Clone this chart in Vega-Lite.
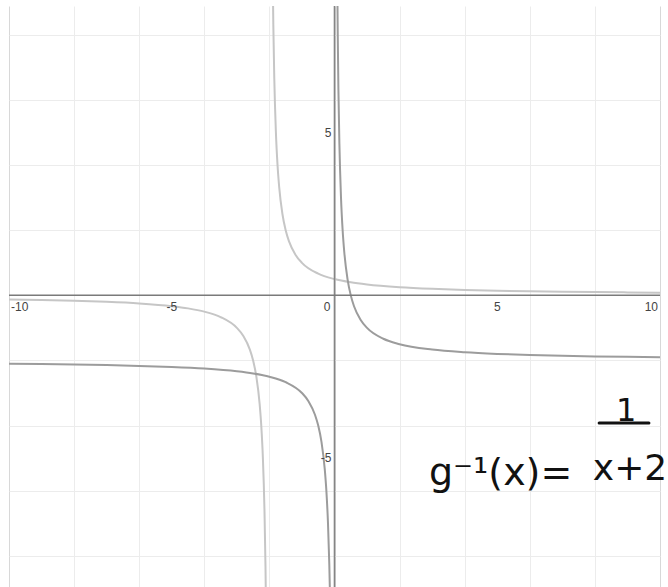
{
  "$schema": "https://vega.github.io/schema/vega-lite/v6.json",
  "width": 651,
  "height": 581,
  "autosize": "none",
  "padding": {"left": 9, "top": 6, "right": 8, "bottom": 0},
  "background": "white",
  "config": {"view": {"stroke": null}},
  "datasets": {
    "curves": [
      {"curve": "inverse", "seg": "a", "x": -10, "y": -0.125},
      {"curve": "inverse", "seg": "a", "x": -9, "y": -0.142857},
      {"curve": "inverse", "seg": "a", "x": -8, "y": -0.166667},
      {"curve": "inverse", "seg": "a", "x": -7, "y": -0.2},
      {"curve": "inverse", "seg": "a", "x": -6, "y": -0.25},
      {"curve": "inverse", "seg": "a", "x": -5, "y": -0.333333},
      {"curve": "inverse", "seg": "a", "x": -4.5, "y": -0.4},
      {"curve": "inverse", "seg": "a", "x": -4, "y": -0.5},
      {"curve": "inverse", "seg": "a", "x": -3.5, "y": -0.666667},
      {"curve": "inverse", "seg": "a", "x": -3, "y": -1},
      {"curve": "inverse", "seg": "a", "x": -2.8, "y": -1.25},
      {"curve": "inverse", "seg": "a", "x": -2.6, "y": -1.666667},
      {"curve": "inverse", "seg": "a", "x": -2.5, "y": -2},
      {"curve": "inverse", "seg": "a", "x": -2.4, "y": -2.5},
      {"curve": "inverse", "seg": "a", "x": -2.3, "y": -3.333333},
      {"curve": "inverse", "seg": "a", "x": -2.25, "y": -4},
      {"curve": "inverse", "seg": "a", "x": -2.2, "y": -5},
      {"curve": "inverse", "seg": "a", "x": -2.15, "y": -6.666667},
      {"curve": "inverse", "seg": "a", "x": -2.12, "y": -8.333333},
      {"curve": "inverse", "seg": "a", "x": -2.1, "y": -10},
      {"curve": "inverse", "seg": "a", "x": -2.08333, "y": -12},
      {"curve": "inverse", "seg": "b", "x": -1.92, "y": 12.5},
      {"curve": "inverse", "seg": "b", "x": -1.9, "y": 10},
      {"curve": "inverse", "seg": "b", "x": -1.88, "y": 8.333333},
      {"curve": "inverse", "seg": "b", "x": -1.85, "y": 6.666667},
      {"curve": "inverse", "seg": "b", "x": -1.8, "y": 5},
      {"curve": "inverse", "seg": "b", "x": -1.75, "y": 4},
      {"curve": "inverse", "seg": "b", "x": -1.7, "y": 3.333333},
      {"curve": "inverse", "seg": "b", "x": -1.6, "y": 2.5},
      {"curve": "inverse", "seg": "b", "x": -1.5, "y": 2},
      {"curve": "inverse", "seg": "b", "x": -1.4, "y": 1.666667},
      {"curve": "inverse", "seg": "b", "x": -1.2, "y": 1.25},
      {"curve": "inverse", "seg": "b", "x": -1, "y": 1},
      {"curve": "inverse", "seg": "b", "x": -0.5, "y": 0.666667},
      {"curve": "inverse", "seg": "b", "x": 0, "y": 0.5},
      {"curve": "inverse", "seg": "b", "x": 0.5, "y": 0.4},
      {"curve": "inverse", "seg": "b", "x": 1, "y": 0.333333},
      {"curve": "inverse", "seg": "b", "x": 2, "y": 0.25},
      {"curve": "inverse", "seg": "b", "x": 3, "y": 0.2},
      {"curve": "inverse", "seg": "b", "x": 4, "y": 0.166667},
      {"curve": "inverse", "seg": "b", "x": 5, "y": 0.142857},
      {"curve": "inverse", "seg": "b", "x": 6, "y": 0.125},
      {"curve": "inverse", "seg": "b", "x": 7, "y": 0.111111},
      {"curve": "inverse", "seg": "b", "x": 8, "y": 0.1},
      {"curve": "inverse", "seg": "b", "x": 9, "y": 0.090909},
      {"curve": "inverse", "seg": "b", "x": 10, "y": 0.083333},
      {"curve": "g", "seg": "c", "x": -10, "y": -2.1},
      {"curve": "g", "seg": "c", "x": -9, "y": -2.111111},
      {"curve": "g", "seg": "c", "x": -8, "y": -2.125},
      {"curve": "g", "seg": "c", "x": -7, "y": -2.142857},
      {"curve": "g", "seg": "c", "x": -6, "y": -2.166667},
      {"curve": "g", "seg": "c", "x": -5, "y": -2.2},
      {"curve": "g", "seg": "c", "x": -4, "y": -2.25},
      {"curve": "g", "seg": "c", "x": -3, "y": -2.333333},
      {"curve": "g", "seg": "c", "x": -2.5, "y": -2.4},
      {"curve": "g", "seg": "c", "x": -2, "y": -2.5},
      {"curve": "g", "seg": "c", "x": -1.5, "y": -2.666667},
      {"curve": "g", "seg": "c", "x": -1, "y": -3},
      {"curve": "g", "seg": "c", "x": -0.8, "y": -3.25},
      {"curve": "g", "seg": "c", "x": -0.6, "y": -3.666667},
      {"curve": "g", "seg": "c", "x": -0.5, "y": -4},
      {"curve": "g", "seg": "c", "x": -0.4, "y": -4.5},
      {"curve": "g", "seg": "c", "x": -0.3, "y": -5.333333},
      {"curve": "g", "seg": "c", "x": -0.25, "y": -6},
      {"curve": "g", "seg": "c", "x": -0.2, "y": -7},
      {"curve": "g", "seg": "c", "x": -0.16, "y": -8.25},
      {"curve": "g", "seg": "c", "x": -0.14, "y": -9.142857},
      {"curve": "g", "seg": "c", "x": -0.12, "y": -10.333333},
      {"curve": "g", "seg": "c", "x": -0.1, "y": -12},
      {"curve": "g", "seg": "d", "x": 0.07, "y": 12.285714},
      {"curve": "g", "seg": "d", "x": 0.08, "y": 10.5},
      {"curve": "g", "seg": "d", "x": 0.09, "y": 9.111111},
      {"curve": "g", "seg": "d", "x": 0.1, "y": 8},
      {"curve": "g", "seg": "d", "x": 0.12, "y": 6.333333},
      {"curve": "g", "seg": "d", "x": 0.15, "y": 4.666667},
      {"curve": "g", "seg": "d", "x": 0.2, "y": 3},
      {"curve": "g", "seg": "d", "x": 0.25, "y": 2},
      {"curve": "g", "seg": "d", "x": 0.3, "y": 1.333333},
      {"curve": "g", "seg": "d", "x": 0.4, "y": 0.5},
      {"curve": "g", "seg": "d", "x": 0.5, "y": 0},
      {"curve": "g", "seg": "d", "x": 0.6, "y": -0.333333},
      {"curve": "g", "seg": "d", "x": 0.8, "y": -0.75},
      {"curve": "g", "seg": "d", "x": 1, "y": -1},
      {"curve": "g", "seg": "d", "x": 1.5, "y": -1.333333},
      {"curve": "g", "seg": "d", "x": 2, "y": -1.5},
      {"curve": "g", "seg": "d", "x": 3, "y": -1.666667},
      {"curve": "g", "seg": "d", "x": 4, "y": -1.75},
      {"curve": "g", "seg": "d", "x": 5, "y": -1.8},
      {"curve": "g", "seg": "d", "x": 6, "y": -1.833333},
      {"curve": "g", "seg": "d", "x": 7, "y": -1.857143},
      {"curve": "g", "seg": "d", "x": 8, "y": -1.875},
      {"curve": "g", "seg": "d", "x": 9, "y": -1.888889},
      {"curve": "g", "seg": "d", "x": 10, "y": -1.9}
    ],
    "xlabels": [
      {"v": -10, "t": "-10", "pos": "left"},
      {"v": -5, "t": "-5", "pos": "center"},
      {"v": 5, "t": "5", "pos": "center"},
      {"v": 10, "t": "10", "pos": "right"}
    ],
    "ylabels": [
      {"v": 5, "t": "5"},
      {"v": -5, "t": "-5"}
    ],
    "note": [
      {"x": 2.9, "y": -5.83, "t": "g⁻¹(x)=", "kind": "lhs"},
      {"x": 8.96, "y": -3.86, "t": "1", "kind": "num"},
      {"x": 9.08, "y": -5.33, "t": "x+2", "kind": "den"}
    ],
    "bar": [{"x": 8.13, "x2": 9.66, "y": -3.92}]
  },
  "layer": [
    {
      "data": {"name": "curves"},
      "mark": {"type": "line", "clip": true, "interpolate": "monotone", "strokeWidth": 2},
      "encoding": {
        "x": {
          "field": "x", "type": "quantitative",
          "scale": {"domain": [-10, 10], "nice": false, "zero": false},
          "axis": {
            "values": [-10, -9, -8, -7, -6, -5, -4, -3, -2, -1, 0, 1, 2, 3, 4, 5, 6, 7, 8, 9, 10],
            "grid": true, "labels": false, "ticks": false, "domain": false, "title": null,
            "gridColor": {"condition": {"test": "datum.value % 5 === 0", "value": "#d8d8d8"}, "value": "#ececec"},
            "gridWidth": 1
          }
        },
        "y": {
          "field": "y", "type": "quantitative",
          "scale": {"domain": [-8.96, 8.89], "nice": false, "zero": false},
          "axis": {
            "values": [-8, -7, -6, -5, -4, -3, -2, -1, 0, 1, 2, 3, 4, 5, 6, 7, 8],
            "grid": true, "labels": false, "ticks": false, "domain": false, "title": null,
            "gridColor": {"condition": {"test": "datum.value % 5 === 0", "value": "#d8d8d8"}, "value": "#ececec"},
            "gridWidth": 1
          }
        },
        "detail": {"field": "seg"},
        "color": {
          "field": "curve", "type": "nominal",
          "scale": {"domain": ["inverse", "g"], "range": ["#c6c6c6", "#9c9c9c"]},
          "legend": null
        },
        "order": {"field": "x", "type": "quantitative"}
      }
    },
    {
      "data": {"values": [{"v": 0}]},
      "mark": {"type": "rule", "color": "#858585", "strokeWidth": 1.6},
      "encoding": {"x": {"field": "v", "type": "quantitative"}}
    },
    {
      "data": {"values": [{"v": 0}]},
      "mark": {"type": "rule", "color": "#7a7a7a", "strokeWidth": 1.5},
      "encoding": {"y": {"field": "v", "type": "quantitative"}}
    },
    {
      "data": {"name": "xlabels"},
      "transform": [{"filter": "datum.pos === 'center'"}],
      "mark": {"type": "text", "align": "center", "baseline": "top", "dy": 7, "font": "Liberation Sans", "fontSize": 12, "color": "#444"},
      "encoding": {"x": {"field": "v", "type": "quantitative"}, "y": {"datum": 0}, "text": {"field": "t"}}
    },
    {
      "data": {"name": "xlabels"},
      "transform": [{"filter": "datum.pos === 'left'"}],
      "mark": {"type": "text", "align": "left", "baseline": "top", "dy": 7, "dx": 2, "font": "Liberation Sans", "fontSize": 12, "color": "#444"},
      "encoding": {"x": {"field": "v", "type": "quantitative"}, "y": {"datum": 0}, "text": {"field": "t"}}
    },
    {
      "data": {"name": "xlabels"},
      "transform": [{"filter": "datum.pos === 'right'"}],
      "mark": {"type": "text", "align": "right", "baseline": "top", "dy": 7, "dx": -2, "font": "Liberation Sans", "fontSize": 12, "color": "#444"},
      "encoding": {"x": {"field": "v", "type": "quantitative"}, "y": {"datum": 0}, "text": {"field": "t"}}
    },
    {
      "data": {"values": [{"v": 0, "t": "0"}]},
      "mark": {"type": "text", "align": "right", "baseline": "top", "dy": 7, "dx": -4, "font": "Liberation Sans", "fontSize": 12, "color": "#444"},
      "encoding": {"x": {"field": "v", "type": "quantitative"}, "y": {"field": "v", "type": "quantitative"}, "text": {"field": "t"}}
    },
    {
      "data": {"name": "ylabels"},
      "mark": {"type": "text", "align": "right", "baseline": "middle", "dx": -3, "font": "Liberation Sans", "fontSize": 12, "color": "#444"},
      "encoding": {"x": {"datum": 0}, "y": {"field": "v", "type": "quantitative"}, "text": {"field": "t"}}
    },
    {
      "data": {"name": "note"},
      "transform": [{"filter": "datum.kind === 'den'"}],
      "mark": {"type": "text", "align": "center", "baseline": "middle", "font": "DejaVu Sans", "fontSize": 36, "color": "#111"},
      "encoding": {"x": {"field": "x", "type": "quantitative"}, "y": {"field": "y", "type": "quantitative"}, "text": {"field": "t"}}
    },
    {
      "data": {"name": "note"},
      "transform": [{"filter": "datum.kind === 'num'"}],
      "mark": {"type": "text", "align": "center", "baseline": "alphabetic", "font": "DejaVu Sans", "fontSize": 32, "color": "#111"},
      "encoding": {"x": {"field": "x", "type": "quantitative"}, "y": {"field": "y", "type": "quantitative"}, "text": {"field": "t"}}
    },
    {
      "data": {"name": "note"},
      "transform": [{"filter": "datum.kind === 'lhs'"}],
      "mark": {"type": "text", "align": "left", "baseline": "alphabetic", "font": "DejaVu Sans", "fontSize": 38, "color": "#111"},
      "encoding": {"x": {"field": "x", "type": "quantitative"}, "y": {"field": "y", "type": "quantitative"}, "text": {"field": "t"}}
    },
    {
      "data": {"name": "bar"},
      "mark": {"type": "rule", "color": "#111", "strokeWidth": 3, "strokeCap": "round"},
      "encoding": {"x": {"field": "x", "type": "quantitative"}, "x2": {"field": "x2"}, "y": {"field": "y", "type": "quantitative"}}
    }
  ]
}
